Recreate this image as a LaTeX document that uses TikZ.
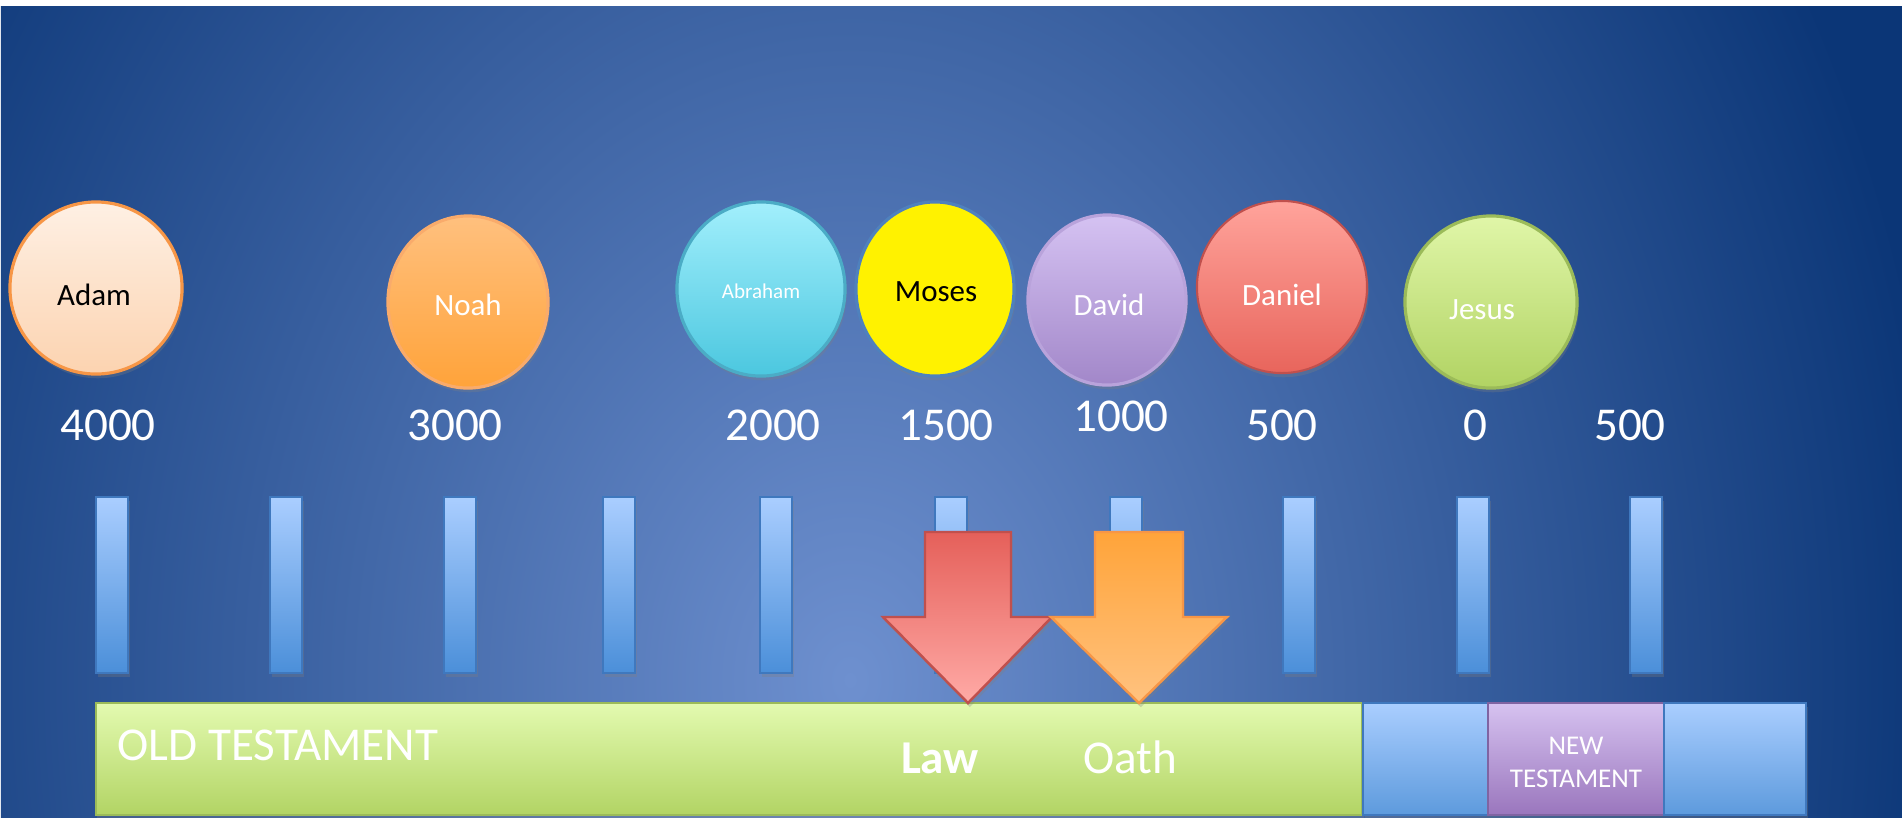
\documentclass[tikz,border=0pt]{standalone}
\usepackage{fontspec}
\setmainfont{Carlito}
\usetikzlibrary{shapes.geometric,shadows}

\definecolor{bgin}{HTML}{6E90CF}
\definecolor{bgout}{HTML}{0B3677}
\definecolor{tickA}{HTML}{AACEFF}
\definecolor{tickB}{HTML}{4B8FD9}
\definecolor{tickline}{HTML}{3F78BE}
\definecolor{otA}{HTML}{E3FAB0}
\definecolor{otB}{HTML}{B2D464}
\definecolor{otline}{HTML}{9BBB59}
\definecolor{ntA}{HTML}{D6C2F0}
\definecolor{ntB}{HTML}{9A76BD}
\definecolor{ntline}{HTML}{8064A2}
\definecolor{adamA}{HTML}{FEF0E4}
\definecolor{adamB}{HTML}{FCD3B0}
\definecolor{orangeline}{HTML}{F79646}
\definecolor{noahA}{HTML}{FFC07E}
\definecolor{noahB}{HTML}{FFA33A}
\definecolor{abrA}{HTML}{A2EFFC}
\definecolor{abrB}{HTML}{4BC7DF}
\definecolor{abrline}{HTML}{4BACC6}
\definecolor{mosesline}{HTML}{4F81BD}
\definecolor{davA}{HTML}{D5C2F2}
\definecolor{davB}{HTML}{A287C9}
\definecolor{davline}{HTML}{B9A3DB}
\definecolor{danA}{HTML}{FFA39B}
\definecolor{danB}{HTML}{E8655C}
\definecolor{redline}{HTML}{C0504D}
\definecolor{jesA}{HTML}{E0F6A8}
\definecolor{jesB}{HTML}{B1D363}
\definecolor{lawA}{HTML}{E5605A}
\definecolor{lawB}{HTML}{FFAAA6}
\definecolor{oathA}{HTML}{FFA43A}
\definecolor{oathB}{HTML}{FFC27F}

\tikzset{
  softshadow/.style={drop shadow={opacity=0.3,shadow xshift=0.5pt,shadow yshift=-1.2pt}},
  person/.style={ellipse,draw,line width=0.9pt,inner sep=0pt,softshadow},
  personname/.style={inner sep=0pt,font=\fontsize{8.8}{10}\selectfont},
  year/.style={text=white,inner sep=0pt,font=\fontsize{13.4}{16}\selectfont},
  tickbar/.style={rectangle,draw=tickline,line width=0.4pt,inner sep=0pt,
    top color=tickA,bottom color=tickB,minimum width=0.32cm,minimum height=1.76cm,softshadow},
  block/.style={rectangle,draw,line width=0.6pt,inner sep=0pt,minimum height=1.12cm,softshadow},
  bigarrow/.style={line width=0.7pt,line join=miter,softshadow},
  bartext/.style={text=white,inner sep=0pt,font=\fontsize{13.4}{16}\selectfont},
}

\begin{document}
\begin{tikzpicture}[x=0.01cm,y=-0.01cm]
\useasboundingbox (0,0) rectangle (1902,817);
% background
\fill[white] (0,0) rectangle (1902,817);
\begin{scope}
\clip (1,6) rectangle (1902,817);
\fill[bgout] (1,6) rectangle (1902,817);
\shade[inner color=bgin,outer color=bgout] (850,680) ellipse [x radius=1100, y radius=1400];
\end{scope}

% people
\node[person,draw=orangeline,top color=adamA,bottom color=adamB,
  minimum width=1.72cm,minimum height=1.72cm] (adam) at (96,288) {};
\node[person,draw=orangeline!80!white,top color=noahA,bottom color=noahB,
  minimum width=1.60cm,minimum height=1.72cm] (noah) at (468,302) {};
\node[person,draw=abrline,top color=abrA,bottom color=abrB,
  minimum width=1.68cm,minimum height=1.74cm] (abraham) at (761,289) {};
\node[person,draw=mosesline,fill=yellow,
  minimum width=1.58cm,minimum height=1.74cm] (moses) at (935,289) {};
\node[person,draw=davline,top color=davA,bottom color=davB,
  minimum width=1.58cm,minimum height=1.70cm] (david) at (1107,300) {};
\node[person,draw=redline,line width=0.6pt,top color=danA,bottom color=danB,
  minimum width=1.70cm,minimum height=1.72cm] (daniel) at (1282,287) {};
\node[person,draw=otline,top color=jesA,bottom color=jesB,
  minimum width=1.72cm,minimum height=1.72cm] (jesus) at (1491,302) {};

\node[personname] (adamname) at (94,295) {Adam};
\node[personname,text=white] (noahname) at (468,305) {Noah};
\node[personname,text=white,font=\fontsize{6}{7}\selectfont] (abrahamname) at (761,291) {Abraham};
\node[personname] (mosesname) at (936,292) {Moses};
\node[personname,text=white] (davidname) at (1109,305) {David};
\node[personname,text=white] (danielname) at (1282,295) {Daniel};
\node[personname,text=white] (jesusname) at (1482,310) {Jesus};

% years
\node[year] (y4000) at (108,425) {4000};
\node[year] (y3000) at (455,425) {3000};
\node[year] (y2000) at (773,425) {2000};
\node[year] (y1500) at (946,425) {1500};
\node[year] (y1000) at (1121,416) {1000};
\node[year] (y500) at (1282,425) {500};
\node[year] (y0) at (1475,425) {0};
\node[year] (y500b) at (1630,425) {500};

% ticks
\foreach \x [count=\i] in {112,286,460,619,776,951,1126,1299,1473,1646}
  \node[tickbar] (tick\i) at (\x,585) {};

% testaments
\node[block,draw=otline,top color=otA,bottom color=otB,minimum width=12.66cm] (old) at (729,759) {};
\node[block,draw=tickline,top color=tickA,bottom color=tickB!90!white,minimum width=1.25cm] (gap1) at (1425.5,759) {};
\node[block,draw=ntline,top color=ntA,bottom color=ntB,minimum width=1.76cm] (new) at (1576,759) {};
\node[block,draw=tickline,top color=tickA,bottom color=tickB!90!white,minimum width=1.42cm] (gap2) at (1735,759) {};
\node[text=white,align=center,inner sep=0pt,font=\fontsize{7.7}{9.4}\selectfont] (newtext) at (1576,762) {NEW\\TESTAMENT};
\node[bartext,anchor=base west] (oldtext) at (117,760) {OLD TESTAMENT};
\node[bartext,anchor=base,font=\fontsize{13.4}{16}\selectfont\bfseries] (law) at (940,773) {Law};
\node[bartext,anchor=base] (oath) at (1130,773) {Oath};

% arrows
\draw[bigarrow,draw=redline,top color=lawA,bottom color=lawB]
  (925,532) -- (1011,532) -- (1011,617) -- (1052,617) -- (968,703) -- (883,617) -- (925,617) -- cycle;
\draw[bigarrow,draw=orangeline,top color=oathA,bottom color=oathB]
  (1095,532) -- (1183,532) -- (1183,617) -- (1227,617) -- (1139,703) -- (1051,617) -- (1095,617) -- cycle;
\end{tikzpicture}
\end{document}
